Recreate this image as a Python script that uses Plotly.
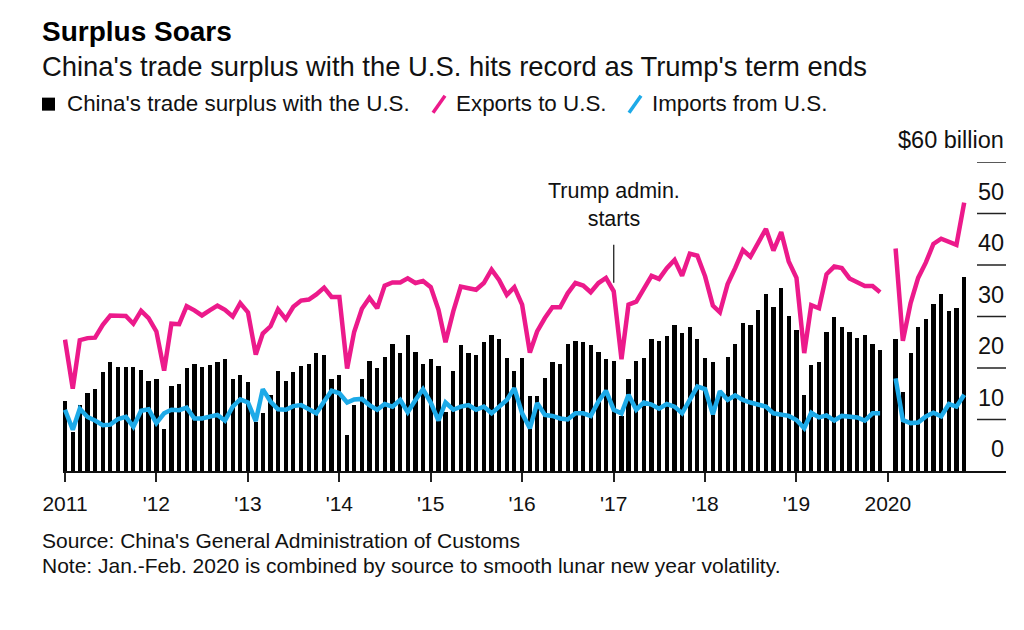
import plotly.graph_objects as go
import pandas as pd

# ---- data (US$ billion, monthly, Jan 2011 - Nov 2020; Jan 2020 combined into Feb) ----
months = pd.date_range("2011-01-01", "2020-11-01", freq="MS")

surplus = [
    13.5, 7.5, 12.8, 15.1, 16.0, 19.2, 21.1, 20.2, 20.2, 20.2, 19.6, 17.4,
    17.8, 8.2, 16.6, 16.9, 20.0, 20.7, 20.2, 20.5, 21.1, 21.7, 17.8, 18.7,
    17.2, 9.5, 11.2, 14.7, 19.5, 17.5, 19.3, 20.4, 20.8, 22.9, 22.5, 17.8,
    18.7, 7.0, 12.8, 17.8, 21.4, 20.0, 22.2, 24.7, 22.9, 26.5, 23.2, 20.8,
    21.7, 20.3, 11.5, 19.5, 24.4, 22.9, 22.6, 25.0, 26.5, 25.6, 22.0, 19.5,
    22.0, 14.5, 14.5, 18.1, 21.1, 20.8, 24.7, 25.2, 25.0, 24.4, 23.1, 21.7,
    21.4, 10.6, 17.8, 21.4, 22.0, 25.6, 25.3, 26.2, 28.3, 26.8, 28.0, 25.6,
    22.0, 21.1, 15.4, 22.2, 24.7, 28.8, 28.3, 31.3, 34.3, 31.8, 35.5, 30.1,
    27.3, 14.8, 20.5, 21.1, 27.0, 30.0, 27.9, 27.0, 25.9, 26.4, 24.7, 23.5,
    None, 25.6, 15.4, 22.9, 27.9, 29.5, 32.5, 34.3, 31.0, 31.6, 37.6,
]

exports = [
    25.5, 16.0, 25.4, 25.8, 25.9, 28.4, 30.2, 30.1, 30.1, 28.6, 31.1, 29.7,
    27.1, 19.5, 28.6, 28.5, 32.0, 31.2, 30.2, 31.2, 32.1, 31.3, 30.0, 32.6,
    30.8, 22.6, 26.7, 28.1, 31.4, 29.5, 31.9, 33.1, 33.3, 34.3, 35.6, 33.8,
    33.8, 19.9, 27.0, 31.5, 33.6, 31.6, 36.0, 36.6, 36.6, 37.4, 36.5, 36.9,
    35.7, 31.3, 25.0, 31.0, 35.8, 35.5, 35.2, 36.5, 39.1, 37.1, 34.2, 35.7,
    32.3, 23.0, 27.1, 29.7, 31.8, 31.8, 34.5, 36.5, 36.0, 34.7, 36.5, 37.5,
    34.9, 21.7, 32.3, 32.9, 35.2, 37.9, 37.3, 39.4, 41.0, 37.9, 42.2, 41.8,
    37.8, 32.1, 30.8, 36.3, 39.4, 42.9, 41.6, 44.4, 47.0, 42.8, 46.4, 40.7,
    37.5, 22.9, 32.2, 31.6, 38.2, 39.7, 39.4, 37.4, 36.6, 35.9, 35.9, 34.7,
    None, 43.2, 25.3, 32.6, 37.5, 40.5, 44.1, 45.1, 44.5, 43.9, 52.1,
]

imports = [
    11.9, 8.0, 12.1, 10.5, 9.8, 8.9, 9.0, 10.1, 10.5, 8.6, 11.7, 12.0,
    9.3, 11.2, 11.9, 11.8, 12.3, 10.2, 10.2, 10.5, 10.9, 9.8, 12.5, 13.9,
    13.3, 9.7, 15.9, 13.5, 12.0, 11.9, 12.6, 12.8, 12.1, 11.2, 13.5, 15.6,
    15.1, 13.3, 13.9, 14.0, 12.8, 11.9, 13.0, 12.5, 13.8, 11.4, 13.8, 15.9,
    13.3, 9.8, 13.3, 11.9, 12.5, 12.8, 11.9, 12.5, 11.2, 12.5, 13.8, 16.1,
    11.2, 8.3, 13.2, 10.9, 10.7, 10.2, 10.0, 11.2, 11.2, 10.7, 13.5, 15.6,
    11.9, 11.2, 14.8, 11.9, 13.3, 12.9, 12.1, 13.0, 12.5, 11.2, 13.9, 16.4,
    15.9, 11.0, 15.5, 13.8, 14.7, 13.8, 13.3, 13.0, 12.5, 11.2, 10.9, 10.7,
    9.9, 8.3, 11.3, 10.4, 10.8, 9.8, 10.7, 10.6, 10.4, 9.8, 11.2, 11.2,
    None, 18.0, 9.9, 9.3, 9.4, 10.6, 11.3, 10.6, 13.0, 12.5, 14.8,
]

year_ticks = [f"{y}-01-01" for y in range(2011, 2021)]
year_labels = ["2011", "'12", "'13", "'14", "'15", "'16", "'17", "'18", "'19", "2020"]
y_ticks = [0, 10, 20, 30, 40, 50, 60]
y_labels = ["0", "10", "20", "30", "40", "50", "$60 billion"]

# ---- styling / layout helpers ----
# the page body adds an 8px margin, so the figure is drawn 8px smaller and
# all target page coordinates are shifted by that offset
OFF = 8
W, H = 1024 - OFF, 630 - OFF
PLOT_L, PLOT_R, PLOT_T, PLOT_B = 63, 1006, 162.3, 471   # page pixel coords of plot area
ML, MR = PLOT_L - OFF, W - (PLOT_R - OFF)
MT, MB = PLOT_T - OFF, H - (PLOT_B - OFF)
FONT = "Liberation Sans, Arial, Helvetica, sans-serif"
PINK = "#EC1A8B"
BLUE = "#1DAAE8"
TXT = "#111111"


def px(xp):
    return (xp - PLOT_L) / (PLOT_R - PLOT_L)


def py(yp):
    return (PLOT_B - yp) / (PLOT_B - PLOT_T)


fig = go.Figure()
fig.add_trace(go.Bar(
    x=months, y=surplus, marker=dict(color="#000000", line=dict(width=0)),
    width=17 * 24 * 3600 * 1000, name="China's trade surplus with the U.S.",
))
fig.add_trace(go.Scatter(
    x=months, y=imports, mode="lines", line=dict(color=BLUE, width=4.5),
    name="Imports from U.S.", connectgaps=False,
))
fig.add_trace(go.Scatter(
    x=months, y=exports, mode="lines", line=dict(color=PINK, width=4.5),
    name="Exports to U.S.", connectgaps=False,
))

shapes = []
annotations = []

# right-side value ticks and labels
for v, lab in zip(y_ticks, y_labels):
    if v > 0:
        shapes.append(dict(type="line", xref="paper", yref="y", x0=px(977), x1=1.0,
                           y0=v, y1=v, line=dict(color="#222222", width=1.5)))
    annotations.append(dict(xref="paper", yref="y", x=1.0, y=v, xanchor="right",
                            yanchor="middle", yshift=22, text=lab, showarrow=False,
                            font=dict(size=23.5, color=TXT, family=FONT)))

# Trump annotation
annotations.append(dict(xref="x", yref="paper", x="2017-01-01", y=py(205),
                        xanchor="center", yanchor="middle", align="center",
                        text="Trump admin.<br>starts", showarrow=False,
                        font=dict(size=21.5, color=TXT, family=FONT)))
shapes.append(dict(type="line", xref="x", yref="paper", x0="2017-01-01", x1="2017-01-01",
                   y0=py(283), y1=py(245), line=dict(color="#222222", width=1.3)))

# titles
annotations.append(dict(xref="paper", yref="paper", x=px(40), y=py(32), xanchor="left",
                        yanchor="middle", text="<b>Surplus Soars</b>", showarrow=False,
                        font=dict(size=28, color="#000000", family=FONT)))
annotations.append(dict(xref="paper", yref="paper", x=px(40), y=py(67), xanchor="left",
                        yanchor="middle",
                        text="China's trade surplus with the U.S. hits record as Trump's term ends",
                        showarrow=False, font=dict(size=27.4, color=TXT, family=FONT)))

# legend
shapes.append(dict(type="rect", xref="paper", yref="paper", x0=px(42), x1=px(55),
                   y0=py(111), y1=py(98), fillcolor="#000000", line=dict(width=0)))
annotations.append(dict(xref="paper", yref="paper", x=px(65), y=py(104), xanchor="left",
                        yanchor="middle", text="China's trade surplus with the U.S.",
                        showarrow=False, font=dict(size=22.4, color=TXT, family=FONT)))
shapes.append(dict(type="line", xref="paper", yref="paper", x0=px(433), x1=px(445),
                   y0=py(113), y1=py(96), line=dict(color=PINK, width=3.5)))
annotations.append(dict(xref="paper", yref="paper", x=px(454), y=py(104), xanchor="left",
                        yanchor="middle", text="Exports to U.S.",
                        showarrow=False, font=dict(size=22.4, color=TXT, family=FONT)))
shapes.append(dict(type="line", xref="paper", yref="paper", x0=px(629), x1=px(641),
                   y0=py(113), y1=py(96), line=dict(color=BLUE, width=3.5)))
annotations.append(dict(xref="paper", yref="paper", x=px(650), y=py(104), xanchor="left",
                        yanchor="middle", text="Imports from U.S.",
                        showarrow=False, font=dict(size=22.4, color=TXT, family=FONT)))

# footnotes
annotations.append(dict(xref="paper", yref="paper", x=px(40), y=py(540), xanchor="left",
                        yanchor="middle", text="Source: China's General Administration of Customs",
                        showarrow=False, font=dict(size=21, color=TXT, family=FONT)))
annotations.append(dict(xref="paper", yref="paper", x=px(40), y=py(565), xanchor="left",
                        yanchor="middle",
                        text="Note: Jan.-Feb. 2020 is combined by source to smooth lunar new year volatility.",
                        showarrow=False, font=dict(size=21, color=TXT, family=FONT)))

fig.update_layout(
    width=W, height=H,
    margin=dict(l=ML, r=MR, t=MT, b=MB, pad=0),
    paper_bgcolor="white", plot_bgcolor="white",
    showlegend=False, bargap=0,
    font=dict(family=FONT, color=TXT),
    shapes=shapes, annotations=annotations,
    xaxis=dict(
        type="date", range=["2010-12-24", "2021-04-17"],
        tickvals=year_ticks, ticktext=year_labels,
        ticks="outside", ticklen=9, tickwidth=1.5, tickcolor="#222222",
        showline=True, linecolor="#111111", linewidth=2,
        showgrid=False, zeroline=False,
        tickfont=dict(size=21, color=TXT, family=FONT),
        ticklabelstandoff=4,
    ),
    yaxis=dict(
        range=[0, 60], showticklabels=False, showgrid=False, zeroline=False,
        showline=False, ticks="",
    ),
)

fig.write_html("out.html")
